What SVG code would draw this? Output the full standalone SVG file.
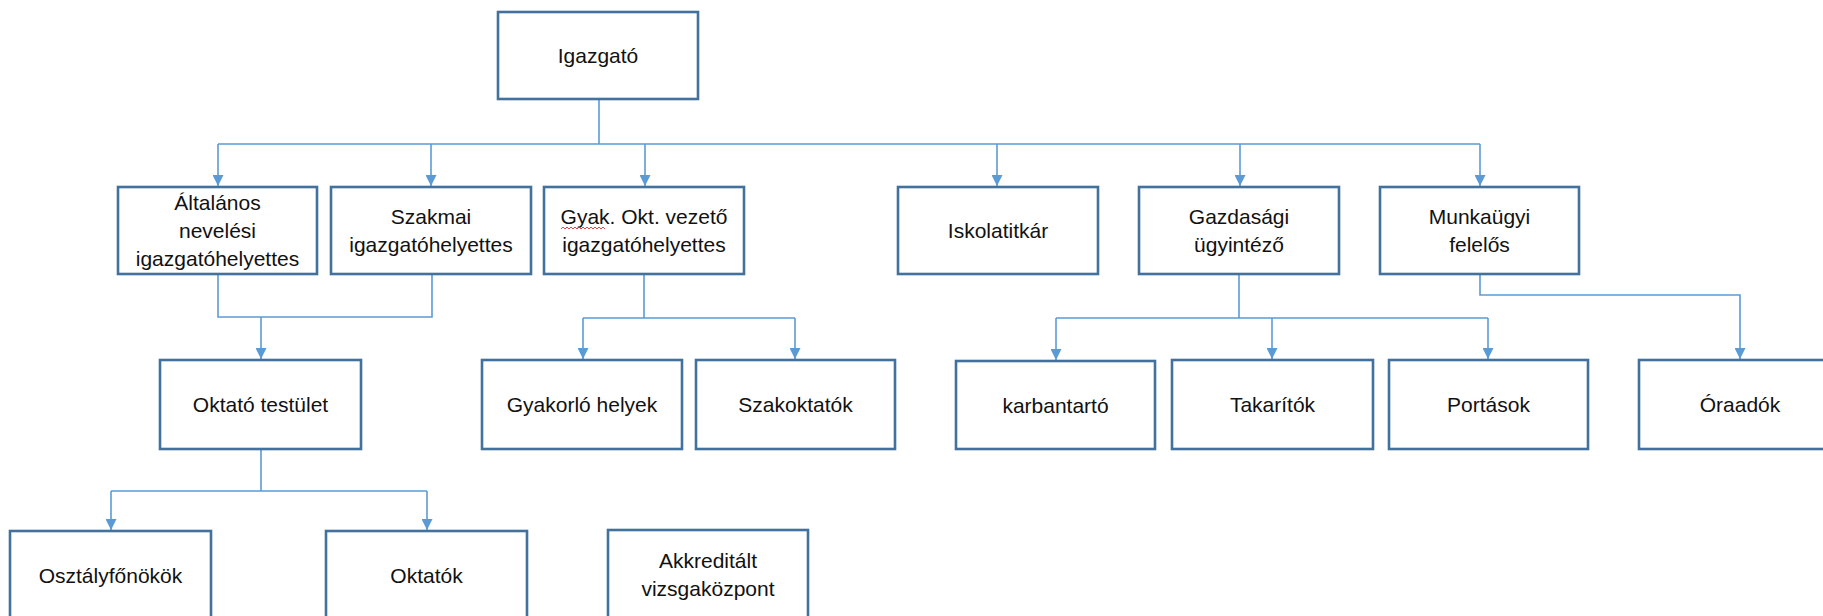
<svg xmlns="http://www.w3.org/2000/svg" width="1823" height="616" viewBox="0 0 1823 616">
<style>
.box{fill:#fff;stroke:#41719C;stroke-width:2.6}
.t{font-family:"Liberation Sans",Arial,sans-serif;font-size:21px;fill:#111;text-anchor:middle}
.c{fill:none;stroke:#5B9BD5;stroke-width:1.6}
</style>
<defs>
<marker id="ah" viewBox="0 0 10 10" refX="10" refY="5" markerWidth="11" markerHeight="11" markerUnits="userSpaceOnUse" orient="auto">
<path d="M0,0 L10,5 L0,10 z" fill="#5B9BD5"/>
</marker>
</defs>
<rect width="1823" height="616" fill="#fff"/>
<g id="connectors">
<path class="c" d="M599,99 V144 M218,144 H1480"/>
<path class="c" d="M218,144 V186" marker-end="url(#ah)"/>
<path class="c" d="M431,144 V186" marker-end="url(#ah)"/>
<path class="c" d="M645,144 V186" marker-end="url(#ah)"/>
<path class="c" d="M997,144 V186" marker-end="url(#ah)"/>
<path class="c" d="M1240,144 V186" marker-end="url(#ah)"/>
<path class="c" d="M1480,144 V186" marker-end="url(#ah)"/>
<path class="c" d="M218,274 V317 H432 V274 M261,317 V359" marker-end="url(#ah)"/>
<path class="c" d="M644,274 V318 M583,318 H795"/>
<path class="c" d="M583,318 V359" marker-end="url(#ah)"/>
<path class="c" d="M795,318 V359" marker-end="url(#ah)"/>
<path class="c" d="M261,449 V491 M111,491 H427"/>
<path class="c" d="M111,491 V530" marker-end="url(#ah)"/>
<path class="c" d="M427,491 V530" marker-end="url(#ah)"/>
<path class="c" d="M1239,274 V318 M1056,318 H1488"/>
<path class="c" d="M1056,318 V360" marker-end="url(#ah)"/>
<path class="c" d="M1272,318 V359" marker-end="url(#ah)"/>
<path class="c" d="M1488,318 V359" marker-end="url(#ah)"/>
<path class="c" d="M1480,274 V295 H1740 V359" marker-end="url(#ah)"/>
</g>
<g id="igazgato"><rect class="box" x="498" y="12" width="200" height="87"/><text class="t" x="598" y="63">Igazgató</text></g>
<g id="altalanos"><rect class="box" x="118" y="187" width="199" height="87"/><text class="t" x="217.5" y="210">Általános</text><text class="t" x="217.5" y="238">nevelési</text><text class="t" x="217.5" y="266">igazgatóhelyettes</text></g>
<g id="szakmai"><rect class="box" x="331" y="187" width="200" height="87"/><text class="t" x="431" y="224">Szakmai</text><text class="t" x="431" y="252">igazgatóhelyettes</text></g>
<g id="gyak"><rect class="box" x="544" y="187" width="200" height="87"/><text class="t" x="644" y="224">Gyak. Okt. vezető</text><text class="t" x="644" y="252">igazgatóhelyettes</text><path d="M561,229 l2,-2 l2,2 l2,-2 l2,2 l2,-2 l2,2 l2,-2 l2,2 l2,-2 l2,2 l2,-2 l2,2 l2,-2 l2,2 l2,-2 l2,2 l2,-2 l2,2 l2,-2 l2,2 l2,-2 l2,2" fill="none" stroke="#e03030" stroke-width="0.9"/></g>
<g id="iskolatitkar"><rect class="box" x="898" y="187" width="200" height="87"/><text class="t" x="998" y="238">Iskolatitkár</text></g>
<g id="gazdasagi"><rect class="box" x="1139" y="187" width="200" height="87"/><text class="t" x="1239" y="224">Gazdasági</text><text class="t" x="1239" y="252">ügyintéző</text></g>
<g id="munkaugyi"><rect class="box" x="1380" y="187" width="199" height="87"/><text class="t" x="1479.5" y="224">Munkaügyi</text><text class="t" x="1479.5" y="252">felelős</text></g>
<g id="oktato-testulet"><rect class="box" x="160" y="360" width="201" height="89"/><text class="t" x="260.5" y="412">Oktató testület</text></g>
<g id="gyakorlo-helyek"><rect class="box" x="482" y="360" width="200" height="89"/><text class="t" x="582" y="412">Gyakorló helyek</text></g>
<g id="szakoktatok"><rect class="box" x="696" y="360" width="199" height="89"/><text class="t" x="795.5" y="412">Szakoktatók</text></g>
<g id="karbantarto"><rect class="box" x="956" y="361" width="199" height="88"/><text class="t" x="1055.5" y="413">karbantartó</text></g>
<g id="takaritok"><rect class="box" x="1172" y="360" width="201" height="89"/><text class="t" x="1272.5" y="412">Takarítók</text></g>
<g id="portasok"><rect class="box" x="1389" y="360" width="199" height="89"/><text class="t" x="1488.5" y="412">Portások</text></g>
<g id="oraadok"><rect class="box" x="1639" y="360" width="201" height="89"/><text class="t" x="1740" y="412">Óraadók</text></g>
<g id="osztalyfonokok"><rect class="box" x="10" y="531" width="201" height="100"/><text class="t" x="110.5" y="583">Osztályfőnökök</text></g>
<g id="oktatok"><rect class="box" x="326" y="531" width="201" height="100"/><text class="t" x="426.5" y="583">Oktatók</text></g>
<g id="akkreditalt"><rect class="box" x="608" y="530" width="200" height="100"/><text class="t" x="708" y="568">Akkreditált</text><text class="t" x="708" y="596">vizsgaközpont</text></g>
</svg>
